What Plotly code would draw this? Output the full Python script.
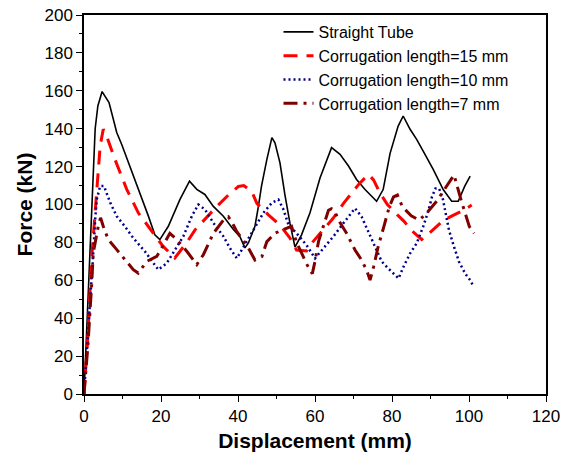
import plotly.graph_objects as go

# Force-displacement curves (displacement in mm, force in kN)
straight_x = [0, 1, 2, 2.9, 3.6, 4.7, 6.5, 8.5, 9.8, 12, 14.5, 16.7, 18.4, 19.7, 21.9, 24.9,
              27.4, 29.3, 31.4, 33.6, 36.2, 38.8, 40.5, 41.8, 42.7, 44.4, 45.3, 46.1, 47.5,
              48.8, 49.6, 50.9, 52.2, 53.5, 54.8, 56.5, 58.7, 61.3, 64.3, 66.5, 68.7, 70.8,
              73, 76, 77.7, 79, 79.5, 81.6, 82.9, 84.7, 86.4, 88.1, 90.7, 93.3, 95.5, 97.2,
              98.9, 100.3]
straight_y = [0, 46, 92, 140, 152, 159.6, 153.8, 138, 131.7, 120, 106, 94, 84, 81.5, 88.5, 102.6,
              112.3, 108, 105.3, 99, 93.8, 86.8, 83, 77.1, 79.7, 88.5, 99, 109.7, 123.8,
              135.3, 132.6, 122, 105, 90, 77.5, 84, 95.6, 114, 130, 126.5, 120.3, 113.2,
              107.9, 101.7, 107.9, 122, 127, 141.4, 146.7, 139.7, 134.4, 128.2, 118.5, 107.9, 101.7, 101.7,
              109.7, 115]

corr15_x = [0, 1, 2, 3.3, 4.2, 5, 5.9, 8, 11.1, 14.1, 17.6, 20.5, 23.6, 26.7, 28.8, 31.9,
            34.5, 37.5, 40.1, 41.5, 43.6, 44.9, 47.9, 50.9, 53.5, 55.2, 57.8, 59.1, 61.7,
            64.7, 67.4, 69.5, 71.5, 73.9, 75.2, 76.9, 78.8, 81.4, 83.2, 84.9, 87.7, 89.5,
            93.3, 95.6, 98.6, 100.7]
corr15_y = [0, 30, 72, 108, 131, 139.7, 136, 124, 108, 95.6, 86, 78, 71.8, 80, 86.5, 93.6,
            99, 105, 109.5, 110, 106.8, 100.6, 94.5, 89.2, 82.3, 76, 75.5, 79.5, 85.7,
            92.7, 100.6, 106, 111, 115.9, 113, 106, 100, 94.5, 91, 86.6, 81.5, 84.6,
            91.5, 94, 97, 99.7]

corr10_x = [0, 0.7, 1.4, 2, 2.4, 2.9, 3.3, 4.2, 5.2, 6.8, 8.5, 10.6, 12.8, 15.8, 19.3, 21.5,
            23.2, 25.8, 28, 29.7, 31.4, 33.6, 36.2, 37.9, 39.7, 41.8, 44, 46.6, 48.8, 50.5,
            51.8, 53.1, 55.2, 57.8, 60, 62.2, 64.8, 67.4, 70.4, 72.1, 74.3, 76, 77.3, 79,
            81.7, 83, 84.7, 86.4, 88.1, 89.5, 90.4, 91.3, 92.2, 93.1, 94, 94.8, 96.1, 97.4,
            99, 100.3, 101.2]
corr10_y = [0, 21.5, 39, 56.6, 74, 92, 102.6, 109.7, 109.7, 101, 93.8, 88.5, 82.3, 75.3, 65.6, 69,
            74.4, 83.2, 93.8, 100, 97.4, 90.3, 83.2, 77, 71.6, 78.8, 86.8, 95.6, 100.9, 102.6,
            97.4, 89.4, 84.8, 78.6, 71.6, 76.9, 83.2, 90.2, 98, 93.6, 84, 76, 70, 66.3,
            61, 67.2, 74.2, 79.5, 88.3, 97.1, 104.1, 108.5, 108.5, 104, 95.3, 86.5, 77.7, 69.8,
            63.6, 60.1, 56.6]

corr7_x = [0, 1, 2, 2.4, 3.7, 4.3, 5, 6.3, 8.5, 10.6, 12.8, 14.1, 16.3, 18.9, 21, 22.3, 24.1,
           26.7, 29.3, 31, 33.6, 36.2, 37.5, 38.6, 39.6, 40.5, 42.7, 44.4, 46.2, 47.5, 49.6,
           51.8, 53.9, 55.2, 56.5, 58, 59.3, 60, 60.9, 61.7, 62.6, 63.5, 64.3, 65, 66.1, 68.2,
           70.4, 72.1, 73.4, 74.3, 75.2, 76.4, 77.9, 79.3, 80.4, 81.4, 82.7, 85, 87, 88.6,
           91.6, 94.4, 96.1, 98, 100.1, 101.3]
corr7_y = [0, 25, 58, 74.4, 88.5, 93, 88.5, 81.5, 76.2, 70.9, 65.6, 63.8, 70, 72.6, 80.4, 84.8, 81.5,
           75.3, 68.3, 73.5, 84.8, 91.8, 93.5, 90, 86, 83.2, 77, 70.7, 72.5, 80.4, 84.8,
           86.8, 88.5, 80, 74, 68, 63.5, 70, 80.4, 85.7, 91.8, 97, 97.8, 97, 91.8, 84.8,
           76, 70.7, 65.4, 60.1, 67, 77.7, 88.5, 98.8, 104, 105, 98.8, 94, 91.8, 94.5,
           101.7, 110.3, 115.6, 102, 88.3, 84.8]

series = [
    ("Straight Tube", straight_x, straight_y, "#000000", 1.6, "solid"),
    ("Corrugation length=15 mm", corr15_x, corr15_y, "#FF0000", 3, "14px,9px"),
    ("Corrugation length=10 mm", corr10_x, corr10_y, "#00008B", 2.5, "2px,3px"),
    ("Corrugation length=7 mm", corr7_x, corr7_y, "#800000", 3, "14px,6px,3px,6px"),
]

fig = go.Figure()
for name, xs, ys, color, width, dash in series:
    fig.add_trace(go.Scatter(x=xs, y=ys, mode="lines", name=name,
                             line=dict(color=color, width=width, dash=dash)))

font_family = "Arial, Liberation Sans, sans-serif"
axis_common = dict(
    showline=True, linecolor="black", linewidth=1.5, mirror=True,
    ticks="outside", ticklen=6, tickwidth=1.2, tickcolor="black",
    showgrid=False, zeroline=False, automargin=False,
    tickfont=dict(family=font_family, size=17, color="black"),
)

fig.update_xaxes(range=[0, 120], dtick=20, tick0=0,
                 minor=dict(dtick=10, ticks="outside", ticklen=3, tickcolor="black"),
                 title=dict(text="<b>Displacement (mm)</b>",
                            font=dict(family=font_family, size=21, color="black"), standoff=8),
                 **axis_common)
fig.update_yaxes(range=[0, 200], dtick=20, tick0=0,
                 minor=dict(dtick=10, ticks="outside", ticklen=3, tickcolor="black"),
                 title=dict(text="<b>Force (kN)</b>",
                            font=dict(family=font_family, size=21, color="black"), standoff=6),
                 **axis_common)

fig.update_layout(
    width=563, height=461,
    margin=dict(l=84, r=17, t=15, b=67, autoexpand=False),
    paper_bgcolor="white", plot_bgcolor="white",
    showlegend=True,
    legend=dict(x=0.421, y=1.0, xanchor="left", yanchor="top",
                bgcolor="rgba(0,0,0,0)", borderwidth=0,
                font=dict(family=font_family, size=16, color="black"),
                tracegroupgap=0),
)

fig.write_html("out.html")
